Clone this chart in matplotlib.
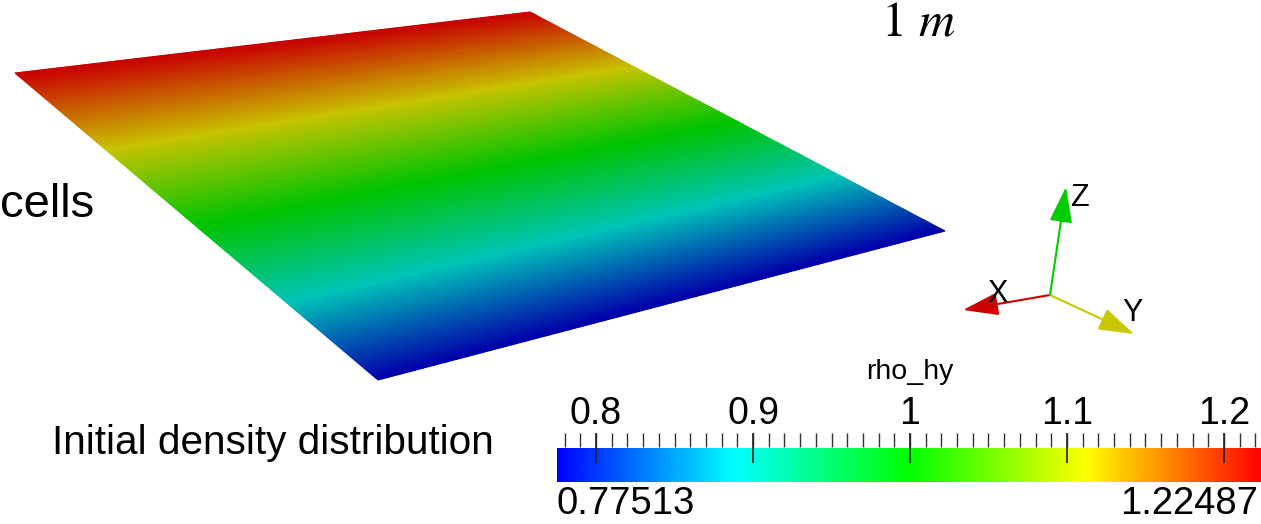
import numpy as np
import matplotlib
matplotlib.use("Agg")
import matplotlib.pyplot as plt
from matplotlib.colors import LinearSegmentedColormap, Normalize

# ---- data ----
field_name = "rho_hy"
rho_min = 0.77513
rho_max = 1.22487
rho_top_edge = 1.22487      # density along the far (top) edge of the plane
rho_bottom_edge = 0.77513   # density along the near (bottom) edge
major_ticks = [0.8, 0.9, 1.0, 1.1, 1.2]
major_labels = ["0.8", "0.9", "1", "1.1", "1.2"]
minor_step = 0.01
caption = "Initial density distribution"
side_text = "cells"
scale_text = r"$1\ m$"

# ---- colours ----
rainbow = ["#0000ff", "#00ffff", "#00ff00", "#ffff00", "#ff0000"]
rainbow_lit = ["#0000aa", "#00c3b8", "#00c300", "#c8c300", "#c80000"]
cmap = LinearSegmentedColormap.from_list("rainbow_bgr", rainbow)
cmap_lit = LinearSegmentedColormap.from_list("rainbow_lit", rainbow_lit)
norm = Normalize(rho_min, rho_max)

W, H = 1261, 524
fig = plt.figure(figsize=(W / 100, H / 100), dpi=100)
ax = fig.add_axes([0, 0, 1, 1])
ax.set_xlim(0, W)
ax.set_ylim(H, 0)
ax.axis("off")

# ---- plane (screen-space quad) ----
TL = np.array([15.0, 73.0])
TR = np.array([530.0, 12.0])
BR = np.array([945.0, 231.0])
BL = np.array([378.0, 380.0])
n = 200
u = np.linspace(0, 1, n)
v = np.linspace(0, 1, n)
U, V = np.meshgrid(u, v)
P = ((1 - U)[..., None] * (1 - V)[..., None] * TL + U[..., None] * (1 - V)[..., None] * TR
     + U[..., None] * V[..., None] * BR + (1 - U)[..., None] * V[..., None] * BL)
rho_field = rho_top_edge + (rho_bottom_edge - rho_top_edge) * V
ax.pcolormesh(P[..., 0], P[..., 1], rho_field, cmap=cmap_lit, norm=norm,
              shading="gouraud", antialiased=False)

# ---- text ----
sans = ["Liberation Sans", "DejaVu Sans"]
ax.text(52, 443, caption, fontsize=29.2, family=sans, ha="left", va="center")
ax.text(0, 205, side_text, fontsize=34, family=sans, ha="left", va="center")
plt.rcParams["mathtext.fontset"] = "stix"
ax.text(918, 22, scale_text, fontsize=36, ha="center", va="center")

# ---- axes triad ----
origin = np.array([1050.0, 295.0])
triad = [("X", (963, 310), "#ff2020", "#cc0000", (997, 294)),
         ("Y", (1134, 334), "#eeee00", "#c8c800", (1133, 313)),
         ("Z", (1066, 187), "#00ee00", "#00cc00", (1080, 198))]
for lab, end, lc, hc, tpos in triad:
    ax.annotate("", xy=end, xytext=origin,
                arrowprops=dict(arrowstyle="-|>,head_length=1.0,head_width=0.32",
                                color=lc, fc=hc, ec=hc, lw=1.5, mutation_scale=22,
                                shrinkA=0, shrinkB=0))
    ax.text(tpos[0], tpos[1], lab, fontsize=22, family=sans, ha="center", va="center")

# ---- colour bar ----
x0, x1 = 557, 1263
y_top, y_bot = 448, 482
cax = fig.add_axes([x0 / W, 1 - y_bot / H, (x1 - x0) / W, (y_bot - y_top) / H])
grad = np.linspace(rho_min, rho_max, 512)[None, :]
cax.imshow(grad, aspect="auto", cmap=cmap, norm=norm,
           extent=[rho_min, rho_max, 0, 1], interpolation="bilinear")
cax.set_xlim(rho_min, rho_max)
cax.set_ylim(0, 1)
cax.axis("off")
tr = cax.get_xaxis_transform()
px = 1.0 / (y_bot - y_top)
minor = np.arange(np.ceil(rho_min / minor_step) * minor_step, rho_max, minor_step)
cax.vlines(minor, (y_bot - 447) * px, (y_bot - 433) * px, transform=tr,
           color="#333333", lw=1.0, clip_on=False)
cax.vlines(major_ticks, (y_bot - 463) * px, (y_bot - 433) * px, transform=tr,
           color="#222222", lw=1.2, clip_on=False)
for t, l in zip(major_ticks, major_labels):
    cax.text(t, (y_bot - 414) * px, l, transform=tr, fontsize=27, family=sans,
             ha="center", va="center", clip_on=False)
cax.text(0.5, (y_bot - 372) * px, field_name, transform=cax.transAxes,
         fontsize=20.5, family=sans, ha="center", va="center")
ax.text(557, 504, f"{rho_min:.5f}", fontsize=27.5, family=sans, ha="left", va="center")
ax.text(1258, 504, f"{rho_max:.5f}", fontsize=27.5, family=sans, ha="right", va="center")

fig.savefig("out.png", dpi=100)
